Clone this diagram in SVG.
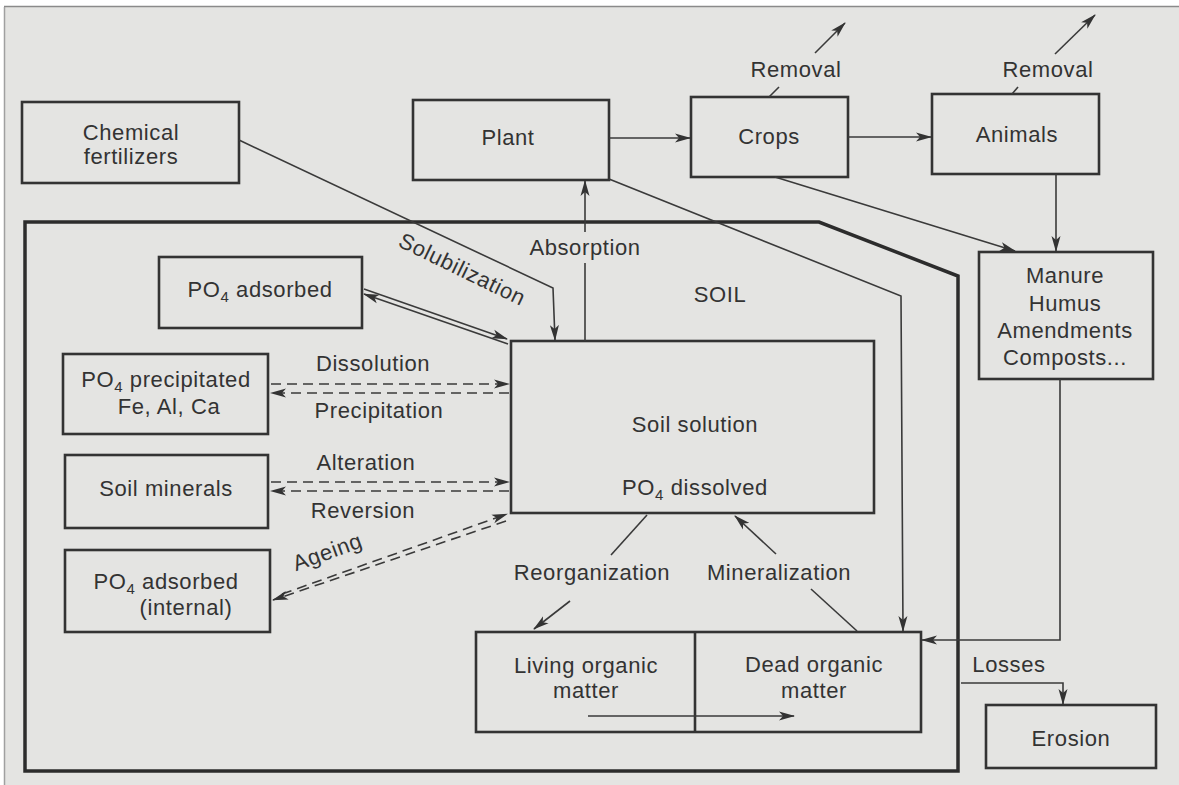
<svg xmlns="http://www.w3.org/2000/svg" width="1179" height="785" viewBox="0 0 1179 785">
<defs>
<style>
.bg{fill:#e4e4e2}
.box{fill:none;stroke:#333;stroke-width:2.6}
.soil{fill:none;stroke:#2c2c2c;stroke-width:3.5;stroke-linejoin:miter}
.ln{fill:none;stroke:#3a3a3a;stroke-width:1.6}
.dash{stroke-dasharray:10 6}
.arr{marker-end:url(#ah)}
text{font-family:"Liberation Sans",Arial,Helvetica,sans-serif;font-size:22px;letter-spacing:0.6px;fill:#333;text-anchor:middle}
.sub{font-size:15px}
</style>
<marker id="ah" viewBox="0 0 16 10" refX="15" refY="5" markerWidth="16" markerHeight="10" orient="auto" markerUnits="userSpaceOnUse"><path d="M0,0.5 L16,5 L0,9.5 L4,5 Z" fill="#333"/></marker>
</defs>
<rect width="1179" height="785" fill="#ffffff"/>
<rect class="bg" x="4" y="7" width="1175" height="778"/>
<line x1="4" y1="6.5" x2="1179" y2="6.5" stroke="#8a8a8a" stroke-width="1.5"/>
<line x1="4.5" y1="7" x2="4.5" y2="785" stroke="#a0a0a0" stroke-width="1.5"/>

<g id="soil">
<path class="soil" d="M25,222 H819 L958,276 V771 H25 Z"/>
<text x="720" y="302">SOIL</text>
</g>

<g id="chemical-fertilizers">
<rect class="box" x="22" y="102" width="217" height="81"/>
<text x="131" y="140">Chemical</text>
<text x="131" y="164">fertilizers</text>
</g>
<g id="plant">
<rect class="box" x="413" y="100" width="196" height="80"/>
<text x="508" y="145">Plant</text>
</g>
<g id="crops">
<rect class="box" x="691" y="97" width="157" height="80"/>
<text x="769" y="144">Crops</text>
</g>
<g id="animals">
<rect class="box" x="932" y="94" width="167" height="80"/>
<text x="1017" y="142">Animals</text>
</g>
<g id="manure">
<rect class="box" x="979" y="252" width="174" height="127"/>
<text x="1065" y="283">Manure</text>
<text x="1065" y="311">Humus</text>
<text x="1065" y="338">Amendments</text>
<text x="1065" y="365">Composts...</text>
</g>
<g id="po4-adsorbed">
<rect class="box" x="159" y="257" width="203" height="71"/>
<text x="260" y="297">PO<tspan class="sub" dy="5">4</tspan><tspan dy="-5"> adsorbed</tspan></text>
</g>
<g id="po4-precipitated">
<rect class="box" x="63" y="354" width="205" height="80"/>
<text x="166" y="387">PO<tspan class="sub" dy="5">4</tspan><tspan dy="-5"> precipitated</tspan></text>
<text x="169" y="414">Fe, Al, Ca</text>
</g>
<g id="soil-minerals">
<rect class="box" x="65" y="455" width="203" height="73"/>
<text x="166" y="496">Soil minerals</text>
</g>
<g id="po4-adsorbed-internal">
<rect class="box" x="65" y="550" width="205" height="82"/>
<text x="166" y="589">PO<tspan class="sub" dy="5">4</tspan><tspan dy="-5"> adsorbed</tspan></text>
<text x="186" y="615">(internal)</text>
</g>
<g id="soil-solution">
<rect class="box" x="511" y="341" width="363" height="172"/>
<text x="695" y="432">Soil solution</text>
<text x="695" y="495">PO<tspan class="sub" dy="5">4</tspan><tspan dy="-5"> dissolved</tspan></text>
</g>
<g id="organic-matter">
<rect class="box" x="476" y="632" width="445" height="100"/>
<line class="box" x1="695" y1="632" x2="695" y2="732"/>
<text x="586" y="673">Living organic</text>
<text x="586" y="698">matter</text>
<text x="814" y="672">Dead organic</text>
<text x="814" y="698">matter</text>
</g>
<g id="erosion">
<rect class="box" x="986" y="705" width="170" height="63"/>
<text x="1071" y="746">Erosion</text>
</g>

<g id="connectors">
<path class="ln arr" d="M609,138 H690"/>
<path class="ln arr" d="M848,137 H931"/>
<path class="ln" d="M769,97 L779,87"/>
<path class="ln arr" d="M815,53 L845,23"/>
<text x="796" y="77">Removal</text>
<path class="ln" d="M1012,94 L1018,87"/>
<path class="ln arr" d="M1055,54 L1095,15"/>
<text x="1048" y="77">Removal</text>
<path class="ln arr" d="M1056,174 V251"/>
<path class="ln arr" d="M775,177 L1015,251"/>
<path class="ln arr" d="M239,140 L553,288 L555,340"/>
<text x="459" y="276" transform="rotate(26 459 276)">Solubilization</text>
<path class="ln" d="M585,341 V263"/>
<path class="ln arr" d="M585,232 V181"/>
<text x="585" y="255">Absorption</text>
<path class="ln arr" d="M609,179 L901,296 L903,631"/>
<path class="ln arr" d="M1060,379 V640 H922"/>
<path class="ln arr" d="M961,683 H1063 V704"/>
<text x="1009" y="672">Losses</text>
<path class="ln arr" d="M364,289 L507,339"/>
<path class="ln arr" d="M508,344 L364,294"/>
<path class="ln dash arr" d="M271,384 H509"/>
<path class="ln dash arr" d="M509,393 H271"/>
<text x="373" y="371">Dissolution</text>
<text x="379" y="418">Precipitation</text>
<path class="ln dash arr" d="M271,482 H509"/>
<path class="ln dash arr" d="M509,491 H271"/>
<text x="366" y="470">Alteration</text>
<text x="363" y="518">Reversion</text>
<path class="ln dash arr" d="M282,594 L507,514"/>
<path class="ln dash arr" d="M506,521 L273,600"/>
<text x="330" y="559" transform="rotate(-20 330 559)">Ageing</text>
<path class="ln" d="M647,515 L611,555"/>
<path class="ln arr" d="M570,601 L534,629"/>
<text x="592" y="580">Reorganization</text>
<path class="ln" d="M857,631 L811,589"/>
<path class="ln arr" d="M776,554 L735,516"/>
<text x="779" y="580">Mineralization</text>
<path class="ln arr" d="M588,716 H794"/>
</g>
</svg>
